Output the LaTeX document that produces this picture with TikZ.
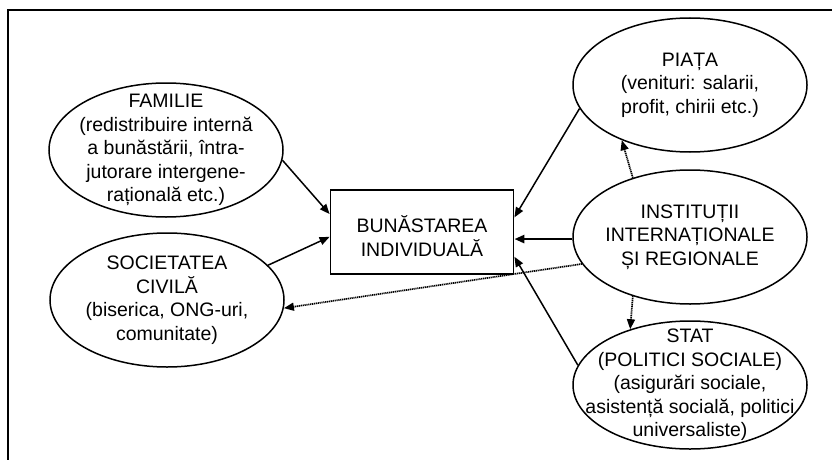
\documentclass[tikz,border=0pt]{standalone}
\usepackage{fontspec}
\setmainfont{Liberation Sans}
\usetikzlibrary{shapes.geometric,arrows.meta}
\begin{document}
\begin{tikzpicture}[x=1pt, y=-1pt,
    oval/.style={ellipse, draw, line width=1.5pt, minimum width=234pt, minimum height=134pt, inner sep=0pt},
    txt/.style={align=center, font=\fontsize{19.5}{23.5}\selectfont},
    flow/.style={-{Triangle[length=10pt,width=8pt]}, line width=1.5pt},
    hint/.style={-{Triangle[length=10pt,width=8pt]}, line width=1.7pt, dash pattern=on 1.2pt off 0.7pt}]
    \useasboundingbox (0,0) rectangle (832,460);
    \draw [line width=2.5pt] (8,460) -- (8,10) -- (832,10);
    \node[oval] (fam)   at (166,150) {};
    \node[oval] (soc)   at (167,300) {};
    \node[oval] (piata) at (690, 85) {};
    \node[oval] (inst)  at (690,237) {};
    \node[oval, minimum height=128pt] (stat) at (690,385) {};
    \node[draw, line width=1.8pt, minimum width=183pt, minimum height=84pt] (box) at (422,232) {};
    \node[txt] (famt)   at (fam)   {FAMILIE\\(redistribuire internă\\a bunăstării, întra-\\jutorare intergene-\\rațională etc.)};
    \node[txt] (soct)   at (soc)   {SOCIETATEA\\CIVILĂ\\(biserica, ONG-uri,\\comunitate)};
    \node[txt] (piatat) at (piata) {PIAȚA\\(venituri: salarii,\\profit, chirii etc.)};
    \node[txt] (instt)  at (inst)  {INSTITUȚII\\INTERNAȚIONALE\\ȘI REGIONALE};
    \node[txt] (statt)  at (stat)  {STAT\\(POLITICI SOCIALE)\\(asigurări sociale,\\asistență socială, politici\\universaliste)};
    \node[txt] (boxt)   at ([yshift=-4pt]box.center) {BUNĂSTAREA\\INDIVIDUALĂ};
    \draw [flow] (fam.-5)     -- (box.169.5);
    \draw [flow] (soc.19)     -- (box.183.7);
    \draw [flow] (piata.192.5) -- (box.9);
    \draw [flow, line width=2.5pt] (inst.181.5) -- (inst.181.5 -| box.east);
    \draw [flow] (stat.170.7) -- (box.-15.6);
    \draw [hint] (inst.134.5) -- (piata.219);
    \draw [hint] (inst.226)   -- (stat.137.5);
    \draw [hint] (inst.194.7) -- (soc.-4);
\end{tikzpicture}
\end{document}
